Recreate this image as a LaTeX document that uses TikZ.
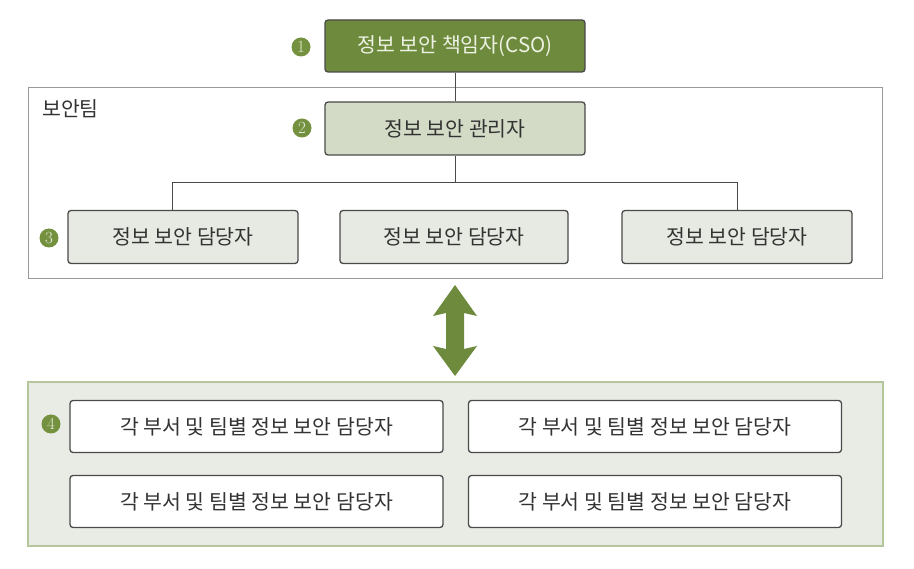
\documentclass[tikz,border=0pt]{standalone}
\usepackage{fontspec}
\newfontfamily\kr{Noto Sans CJK KR}
\usetikzlibrary{calc}
\definecolor{dgreen}{HTML}{6E8B3D}
\definecolor{bgreen}{HTML}{74913F}
\definecolor{mgrfill}{HTML}{D3DBC7}
\definecolor{stafffill}{HTML}{E7EAE2}
\definecolor{botfill}{HTML}{E9ECE5}
\definecolor{botedge}{HTML}{B4C69A}
\definecolor{boxedge}{HTML}{4A4A4A}
\definecolor{txt}{HTML}{333333}
\definecolor{csotxt}{HTML}{EEF2E4}
\begin{document}
\begin{tikzpicture}[x=1pt,y=-1pt,
  box/.style={draw=boxedge, line width=1.3pt, rounded corners=3pt, font=\kr\fontsize{20.5}{22}\selectfont, text=txt, inner sep=0pt},
  badge/.style={circle, fill=bgreen, minimum size=19pt, inner sep=0pt, text=white!80!bgreen, font=\rmfamily\fontsize{17}{17}\selectfont},
  frame/.style={draw=gray!80, line width=1pt},
  conn/.style={draw=boxedge, line width=1pt}
]
\useasboundingbox (0,0) rectangle (914,569);
\fill[white] (0,0) rectangle (914,569);
% frames
\draw[frame] (28,88) rectangle (882,279);
\node[anchor=west, font=\kr\fontsize{20.5}{22}\selectfont, text=txt, inner sep=0pt] (team) at (42,109) {보안팀};
\draw[draw=botedge, fill=botfill, line width=1.2pt] (28,382) rectangle (883,546);
% top boxes
\node[box, fill=dgreen, text=csotxt, minimum width=260pt, minimum height=52pt] (cso) at (455,46) {정보 보안 책임자(CSO)};
\node[box, fill=mgrfill, minimum width=260pt, minimum height=53pt] (mgr) at (455,128.5) {정보 보안 관리자};
\node[box, fill=stafffill, minimum width=230pt, minimum height=53pt] (s1) at (183,237) {정보 보안 담당자};
\node[box, fill=stafffill, minimum width=228pt, minimum height=53pt] (s2) at (454,237) {정보 보안 담당자};
\node[box, fill=stafffill, minimum width=230pt, minimum height=53pt] (s3) at (737,237) {정보 보안 담당자};
% badges
\node[badge] (b1) at (301,47) {1};
\node[badge] (b2) at (302,128) {2};
\node[badge] (b3) at (49,238) {3};
\node[badge] (b4) at (51,424) {4};
% connectors
\coordinate (hl) at (172,183);
\coordinate (hr) at (737,183);
\draw[conn] (cso.south) -- (mgr.north);
\draw[conn] (mgr.south) -- (455,183);
\draw[conn] (s1.north -| hl) -- (hl) -- (hr) -- (s3.north);
% double arrow
\fill[dgreen] (455,285) -- (477,316) -- (464,313) -- (464,349) -- (477,346) -- (455,376) -- (433,346) -- (446,349) -- (446,313) -- (433,316) -- cycle;
% bottom boxes
\node[box, fill=white, minimum width=373pt, minimum height=52pt] (d1) at (256.5,426.5) {각 부서 및 팀별 정보 보안 담당자};
\node[box, fill=white, minimum width=373pt, minimum height=52pt] (d2) at (655,426.5) {각 부서 및 팀별 정보 보안 담당자};
\node[box, fill=white, minimum width=373pt, minimum height=52pt] (d3) at (256.5,501.5) {각 부서 및 팀별 정보 보안 담당자};
\node[box, fill=white, minimum width=373pt, minimum height=52pt] (d4) at (655,501.5) {각 부서 및 팀별 정보 보안 담당자};
\end{tikzpicture}
\end{document}
